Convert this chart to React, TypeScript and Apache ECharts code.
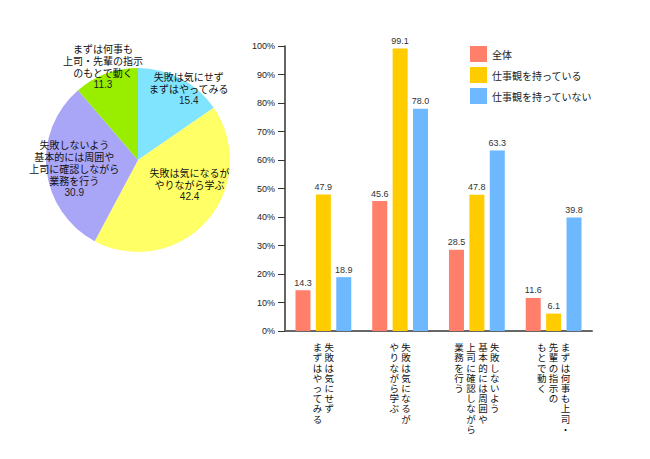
import React, { useEffect, useRef } from "react";
import * as echarts from "echarts";

const pieNames = [
  "失敗は気にせず\nまずはやってみる",
  "失敗は気になるが\nやりながら学ぶ",
  "失敗しないよう\n基本的には周囲や\n上司に確認しながら\n業務を行う",
  "まずは何事も\n上司・先輩の指示\nのもとで動く",
];
const pieValues = [15.4, 42.4, 30.9, 11.3];
const pieColors = ["#80E4FF", "#FFFF66", "#A9A5F7", "#99EE00"];
const pieLabelOffsets = [
  [28, -28],
  [15, -8],
  [-15, 3],
  [-18, -48],
];

const categories = [
  "失敗は気にせず\nまずはやってみる",
  "失敗は気になるが\nやりながら学ぶ",
  "失敗しないよう\n基本的には周囲や\n上司に確認しながら\n業務を行う",
  "まずは何事も上司・\n先輩の指示の\nもとで動く",
];
const seriesNames = ["全体", "仕事観を持っている", "仕事観を持っていない"];
const allValues = [14.3, 45.6, 28.5, 11.6];
const withViewValues = [47.9, 99.1, 47.8, 6.1];
const withoutViewValues = [18.9, 78.0, 63.3, 39.8];
const barColors = ["#FF7F6B", "#FFCC00", "#6EB8FF"];

const CJK = '"Noto Sans CJK JP", "Noto Sans", sans-serif';
const NUM = '"Liberation Sans", Arial, sans-serif';

function toVertical(label: string): string {
  const cols = label.split("\n").map((s) => Array.from(s));
  const n = Math.max(...cols.map((c) => c.length));
  const rows: string[] = [];
  for (let i = 0; i < n; i++) {
    rows.push(
      cols
        .slice()
        .reverse()
        .map((c) => (c[i] !== undefined ? c[i] : "\u3000"))
        .join("\u2009\u200A")
    );
  }
  return rows.join("\n");
}

export default function App() {
  const ref = useRef<HTMLDivElement>(null);
  useEffect(() => {
    document.body.style.margin = "0";
    const chart = echarts.init(ref.current!, null, { renderer: "svg" });
    const barData = [allValues, withViewValues, withoutViewValues];
    chart.setOption({
      animation: false,
      backgroundColor: "#ffffff",
      legend: {
        data: seriesNames,
        orient: "vertical",
        left: 465,
        top: 41,
        itemWidth: 17,
        itemHeight: 16,
        itemGap: 5,
        icon: "rect",
        textStyle: { fontSize: 10, fontFamily: CJK, color: "#222" },
      },
      grid: { left: 285, right: 58, top: 46, bottom: 128, containLabel: false },
      xAxis: {
        type: "category",
        data: categories,
        axisLine: { lineStyle: { color: "#666", width: 2 } },
        axisTick: { show: false },
        axisLabel: {
          interval: 0,
          margin: 11,
          fontSize: 9.5,
          lineHeight: 10.2,
          fontFamily: CJK,
          color: "#111",
          verticalAlign: "top",
          formatter: (v: string) => toVertical(v),
        },
      },
      yAxis: {
        type: "value",
        min: 0,
        max: 100,
        interval: 10,
        axisLine: { show: true, lineStyle: { color: "#333", width: 1.5 } },
        axisTick: { show: true, length: 7, lineStyle: { color: "#333" } },
        splitLine: { show: false },
        axisLabel: {
          formatter: "{value}%",
          fontSize: 9,
          fontFamily: NUM,
          color: "#222",
          margin: 10,
        },
      },
      series: [
        ...seriesNames.map((name, i) => ({
          type: "bar",
          name,
          data: barData[i],
          barWidth: 15,
          barGap: "36%",
          itemStyle: { color: barColors[i] },
          label: {
            show: true,
            position: "top",
            distance: 3,
            fontSize: 9,
            fontFamily: NUM,
            color: "#333",
            formatter: (p: any) => Number(p.value).toFixed(1),
          },
        })),
        {
          type: "pie",
          name: "pie",
          center: [138, 160],
          radius: 92,
          startAngle: 90,
          clockwise: true,
          data: pieNames.map((n, i) => ({
            name: n,
            value: pieValues[i],
            itemStyle: { color: pieColors[i] },
          })),
          label: {
            show: true,
            position: "inside",
            formatter: (p: any) => `{n|${p.name}}\n{v|${Number(p.value).toFixed(1)}}`,
            rich: {
              n: { fontSize: 10, lineHeight: 12, fontFamily: CJK, color: "#111", align: "center" },
              v: { fontSize: 10, lineHeight: 12, fontFamily: NUM, color: "#222", align: "center" },
            },
          },
          labelLine: { show: false },
          labelLayout: (params: any) => {
            const o = pieLabelOffsets[params.dataIndex];
            return { dx: o[0], dy: o[1] };
          },
          emphasis: { disabled: true },
        },
      ],
    });
    return () => chart.dispose();
  }, []);
  return <div ref={ref} style={{ width: 650, height: 459 }} />;
}
